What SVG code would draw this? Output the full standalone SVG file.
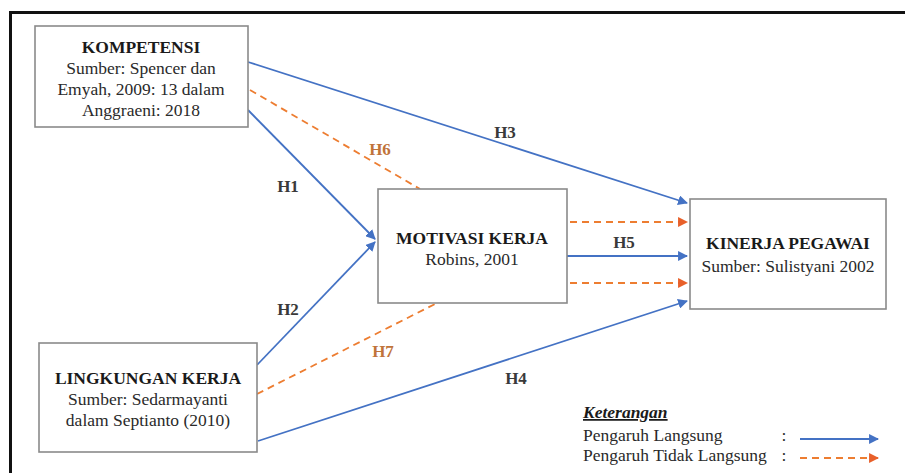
<svg xmlns="http://www.w3.org/2000/svg" width="905" height="473" viewBox="0 0 905 473" font-family="'Liberation Serif', 'DejaVu Serif', serif">
<style>
text{font-family:'Liberation Serif','DejaVu Serif',serif;font-size:17.5px;fill:#2a2a2a;text-anchor:middle}
.b{font-weight:bold;fill:#1a1a1a}
.box{fill:#fff;stroke:#8a8a8a;stroke-width:1.6}
.d{stroke:#4472c4;stroke-width:1.8;fill:none}
.i{stroke:#ed7d31;stroke-width:1.8;fill:none;stroke-dasharray:7 5}
.h{font-weight:bold;fill:#3a3a3a;font-size:17px}
.ho{font-weight:bold;fill:#c0733a;font-size:17px}
.l{text-anchor:start}
</style>
<defs>
<marker id="ab" viewBox="0 0 10 10" refX="9" refY="5" markerWidth="5.5" markerHeight="5.5" orient="auto" markerUnits="strokeWidth"><path d="M0,0 L10,5 L0,10 Z" fill="#4472c4"/></marker>
<marker id="ao" viewBox="0 0 10 10" refX="9" refY="5" markerWidth="5.5" markerHeight="5.5" orient="auto" markerUnits="strokeWidth"><path d="M0,0 L10,5 L0,10 Z" fill="#e8602a"/></marker>
</defs>
<rect width="905" height="473" fill="#fff"/>
<path d="M10.5,473 L10.5,12.5 L905,12.5" fill="none" stroke="#111" stroke-width="3"/>
<g id="connectors">
<path class="d" d="M248,62 L687,203" marker-end="url(#ab)"/>
<path class="i" d="M250,90 L420,189"/>
<path class="d" d="M248,110 L375,239" marker-end="url(#ab)"/>
<path class="d" d="M257,365 L375,242" marker-end="url(#ab)"/>
<path class="i" d="M257,394 L437,303"/>
<path class="d" d="M258,441 L687,301" marker-end="url(#ab)"/>
<path class="i" d="M570,222 L687,222" marker-end="url(#ao)"/>
<path class="d" d="M567,256 L687,256" marker-end="url(#ab)"/>
<path class="i" d="M570,283 L687,283" marker-end="url(#ao)"/>
</g>
<g id="labels">
<text class="ho" x="380" y="155">H6</text>
<text class="h" x="288" y="192">H1</text>
<text class="h" x="505" y="138">H3</text>
<text class="h" x="624" y="248">H5</text>
<text class="h" x="288" y="315">H2</text>
<text class="ho" x="383" y="357">H7</text>
<text class="h" x="516" y="384">H4</text>
</g>
<g id="kompetensi">
<rect class="box" x="35" y="26" width="213" height="101"/>
<text class="b" x="141" y="53">KOMPETENSI</text>
<text x="141" y="74">Sumber: Spencer dan</text>
<text x="141" y="95">Emyah, 2009: 13 dalam</text>
<text x="141" y="116">Anggraeni: 2018</text>
</g>
<g id="motivasi">
<rect class="box" x="378" y="189" width="189" height="114"/>
<text class="b" x="472" y="244">MOTIVASI KERJA</text>
<text x="472" y="265">Robins, 2001</text>
</g>
<g id="kinerja">
<rect class="box" x="690" y="199" width="196" height="110"/>
<text class="b" x="788" y="249">KINERJA PEGAWAI</text>
<text x="788" y="272">Sumber: Sulistyani 2002</text>
</g>
<g id="lingkungan">
<rect class="box" x="39" y="343" width="218" height="109"/>
<text class="b" x="148" y="384">LINGKUNGAN KERJA</text>
<text x="148" y="405">Sumber: Sedarmayanti</text>
<text x="148" y="426">dalam Septianto (2010)</text>
</g>
<g id="legend">
<text class="l b" x="583" y="418" font-style="italic" text-decoration="underline">Keterangan</text>
<text class="l" x="583" y="441">Pengaruh Langsung</text>
<text class="l" x="583" y="461">Pengaruh Tidak Langsung</text>
<text x="784" y="441">:</text>
<text x="784" y="461">:</text>
<path class="d" d="M800,439 L878,439" marker-end="url(#ab)"/>
<path class="i" d="M800,458 L878,458" marker-end="url(#ao)"/>
</g>
</svg>
